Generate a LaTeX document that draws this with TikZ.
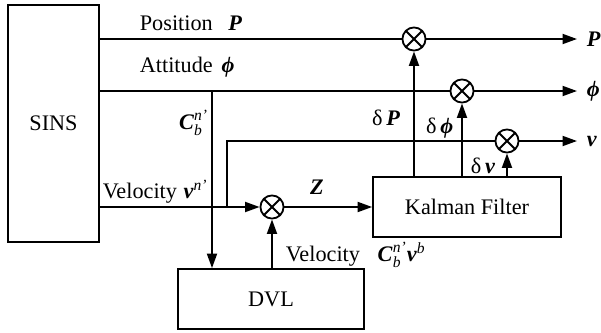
\documentclass[tikz,border=0pt]{standalone}
\usepackage{fontspec,amsmath}
\setmainfont{Liberation Serif}
\usetikzlibrary{arrows.meta,positioning}
\newcommand{\bi}[1]{\textbf{\textit{#1}}}
\newcommand{\Cbn}{$\text{\bi{C}}_{\text{\itshape b}}^{\text{\itshape n'}}$}

\begin{document}
\begin{tikzpicture}[x=.45pt,y=-.45pt,line width=.8pt,
  >={Triangle[length=6.5pt,width=4.5pt]},
  blk/.style={draw,inner sep=0pt,minimum height=27pt},
  lbl/.style={inner sep=0pt},
  mix/.style={draw,circle,minimum size=10.4pt,inner sep=0pt,
    path picture={\draw (path picture bounding box.north west) -- (path picture bounding box.south east)
      (path picture bounding box.north east) -- (path picture bounding box.south west);}}]
\useasboundingbox (0,0) rectangle (601,333);
% blocks
\node[blk,minimum width=41pt,minimum height=106.7pt] (sins) at (53.5,123.5) {SINS};
\node[blk,minimum width=84.6pt] (kf) at (467,207) {Kalman Filter};
\node[blk,minimum width=83.7pt] (dvl) at (271,299) {DVL};
% summing points
\node[mix] (mP) at (414,39) {};
\node[mix] (mA) at (462,91) {};
\node[mix] (mV) at (507,141) {};
\node[mix] (mZ) at (272,207) {};
\coordinate (oP) at (577,39);
\coordinate (oA) at (577,91);
\coordinate (oV) at (577,141);
\coordinate (cb) at (212,91);
\coordinate (vb) at (227,207);
% lines
\draw (sins.east |- mP) -- (mP);
\draw[->] (mP) -- (oP);
\draw (sins.east |- mA) -- (mA);
\draw[->] (mA) -- (oA);
\draw[->] (cb) -- (cb |- dvl.north);
\draw[->] (sins.east |- mZ) -- (mZ);
\draw (vb) |- (mV);
\draw[->] (mV) -- (oV);
\draw[->] (mZ) -- (kf.west);
\draw[->] (dvl.north -| mZ) -- (mZ);
\draw[->] (kf.north -| mP) -- (mP);
\draw[->] (kf.north -| mA) -- (mA);
\draw[->] (kf.north -| mV) -- (mV);
% labels
\node[lbl,anchor=west] (tPos) at (139,23) {Position\hspace{7pt}\bi{P}};
\node[lbl,anchor=west] (tAtt) at (139,67) {Attitude\hspace{4pt}\bi{ϕ}};
\node[lbl,anchor=east] (tCb) at (209,123) {\Cbn};
\node[lbl,anchor=west] (tVel) at (102,192) {Velocity\hspace{3pt}\bi{v}\textsuperscript{\itshape n'}};
\node[lbl] (tZ) at (317,187) {\bi{Z}};
\node[lbl,anchor=west] (tVd) at (285,255) {Velocity\hspace{8pt}\Cbn\bi{v}\textsuperscript{\itshape b}};
\node[lbl,anchor=east] (tdP) at (401,118) {δ\,\bi{P}};
\node[lbl,anchor=east] (tdA) at (454,128) {δ\,\bi{ϕ}};
\node[lbl,anchor=east] (tdV) at (496,166) {δ\,\bi{v}};
\node[lbl,right=4pt of oP] (tP) {\bi{P}};
\node[lbl,right=4pt of oA] (tA) {\bi{ϕ}};
\node[lbl,right=4pt of oV] (tV) {\bi{v}};
\end{tikzpicture}
\end{document}
